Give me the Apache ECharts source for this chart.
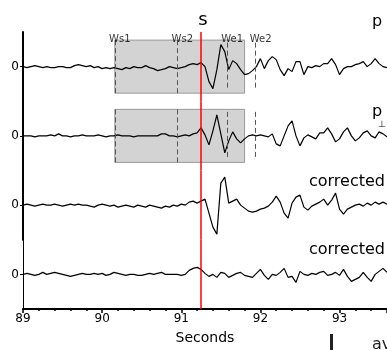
<!DOCTYPE html>
<html><head><meta charset="utf-8">
<script src="https://cdn.jsdelivr.net/npm/echarts@6/dist/echarts.min.js"></script>
<style>html,body{margin:0;padding:0;background:#fff}#c{width:387px;height:350px}</style>
</head><body><div id="c"></div>
<script>
// sample times: start 89 s, step 0.05 s
const T0 = 89, DT = 0.05;
// trace amplitudes (arbitrary units)
const traceP = [0,-1,0,1,0,-1,0,-1,-1,0,0,-1,-1,1,2,1,0,1,-1,0,-2,-1,-2,-1,-2,-3,-1,-2,0,-1,-1,1,-1,-2,-4,-3,-2,0,-1,-2,-1,0,2,3,2,4,0,-15,-22,-3,22,15,-3,6,3,-3,-8,-7,-4,0,8,-2,6,10,7,-3,-9,-2,-5,5,5,-8,0,-1,1,0,3,3,8,2,-8,-2,0,0,2,3,5,0,3,8,3,0,-1];
const tracePperp = [0,0,0,-1,0,0,0,1,0,2,0,0,-1,0,0,1,0,0,0,1,0,-1,0,0,1,0,0,0,-1,0,0,0,0,0,0,2,2,0,0,-1,0,1,0,2,3,8,1,-9,5,21,2,-17,-5,4,-3,-7,-3,0,1,0,1,0,-1,2,-8,-10,0,10,15,0,-10,-2,1,-1,-3,3,3,8,2,-6,-3,4,8,0,-5,-2,3,5,0,-2,4,2,-1];
const traceCorr1 = [0,1,0,-1,0,1,0,0,1,0,-1,0,1,0,1,0,0,-1,-2,0,1,0,-1,0,-2,-1,0,-1,-2,0,-1,-2,0,-1,-2,-3,-1,-2,0,-1,1,0,3,4,2,4,6,-8,-22,-29,22,28,2,4,6,0,-3,-6,-7,-6,-4,-3,-1,3,9,3,-8,-13,2,8,10,-2,-5,-1,1,3,6,0,5,12,-4,-9,-4,-2,0,1,-1,2,0,3,1,3,1];
const traceCorr2 = [0,1,0,-1,0,2,0,1,2,1,0,-1,-2,-1,0,1,0,0,1,0,1,-1,0,2,1,0,-1,0,0,-1,-1,0,1,0,1,2,0,0,0,0,-1,0,4,6,7,5,1,-2,0,-3,2,1,-3,-1,1,2,-1,-2,-3,1,5,-1,-5,0,-1,2,6,-3,-2,-8,3,0,-1,1,0,2,3,-1,0,2,-1,5,-2,-7,-5,-3,2,-3,-7,0,3,6,2];
const traces = [traceP, tracePperp, traceCorr1, traceCorr2];
// x tick labels
const xTicks = [89, 90, 91, 92, 93];
// phase / window times (s)
const sTime = 91.25;
const winNames = ['Ws1', 'Ws2', 'We1', 'We2'];
const winTimes = [90.16, 90.95, 91.58, 91.94];
const boxStart = 90.16, boxEnd = 91.80;
const boxHalf = 26.5;
const weBottom = -21;
const yRange = 34.6;

const font = '"DejaVu Sans", sans-serif';
const gridTop = 32, gridH = 69.25;
const grids = [], xAxes = [], yAxes = [], series = [];
for (let i = 0; i < 4; i++) {
  grids.push({left: 23, right: 0, top: gridTop + i * gridH, height: gridH});
  const last = i === 3;
  xAxes.push({
    gridIndex: i, type: 'value', min: 89, max: 93.6, interval: 1,
    show: last,
    axisLine: {show: last, onZero: false, lineStyle: {color: '#000', width: 2}},
    axisTick: {show: last, inside: false, length: 4, lineStyle: {color: '#000', width: 1.5}},
    minorTick: {show: last, splitNumber: 5, length: 2, lineStyle: {color: '#000', width: 1.5}},
    axisLabel: {show: last, color: '#000', fontSize: 12, fontFamily: font, margin: 4, showMaxLabel: false},
    splitLine: {show: false},
    name: last ? 'Seconds' : '', nameLocation: 'middle', nameGap: 22,
    nameTextStyle: {color: '#000', fontSize: 14, fontFamily: font}
  });
  yAxes.push({
    gridIndex: i, type: 'value', min: -yRange, max: yRange,
    axisLine: {show: true, lineStyle: {color: '#000', width: last ? 1 : 2}},
    axisTick: {show: true, length: 3, customValues: [0], lineStyle: {color: '#000'}},
    axisLabel: {show: true, customValues: [0], color: '#000', fontSize: 12, fontFamily: font, margin: 4},
    splitLine: {show: false}
  });
  const markLineData = [{xAxis: sTime, lineStyle: {color: '#ff0000', width: 1.5, type: 'solid'}}];
  const s = {
    type: 'line', xAxisIndex: i, yAxisIndex: i,
    data: traces[i].map((v, k) => [T0 + DT * k, v]),
    showSymbol: false, symbol: 'none',
    lineStyle: {color: '#000', width: 1.2},
    animation: false, silent: true, z: 3,
    markLine: {silent: true, symbol: 'none', animation: false, label: {show: false}, z: 5, data: markLineData}
  };
  if (i < 2) {
    s.markArea = {
      silent: true,
      itemStyle: {color: '#d3d3d3', borderColor: '#9a9a9a', borderWidth: 1},
      data: [[{coord: [boxStart, boxHalf]}, {coord: [boxEnd, -boxHalf]}]]
    };
    winTimes.forEach((t, j) => {
      markLineData.push([
        {coord: [t, j < 2 ? -boxHalf : weBottom], lineStyle: {color: '#555', width: 1, type: [5, 3]}},
        {coord: [t, boxHalf]}
      ]);
    });
  }
  series.push(s);
}
// window labels (top panel)
series.push({
  type: 'scatter', xAxisIndex: 0, yAxisIndex: 0, symbolSize: 0, silent: true, animation: false,
  data: winTimes.map((t, j) => ({value: [t, 27.2], name: winNames[j]})),
  label: {show: true, position: 'inside', formatter: '{b}', offset: [5, 0], color: '#000', fontSize: 10, fontFamily: font},
  z: 6
});

const chart = echarts.init(document.getElementById('c'), null, {renderer: 'canvas'});
chart.setOption({
  backgroundColor: '#fff',
  animation: false,
  grid: grids, xAxis: xAxes, yAxis: yAxes, series: series,
  graphic: [
    {type: 'text', x: 203, y: 20, style: {text: 's', fontSize: 18, fontFamily: font, fill: '#000', align: 'center', verticalAlign: 'middle'}},
    {type: 'text', x: 377, y: 21.5, style: {text: 'p', fontSize: 16, fontFamily: font, fill: '#000', align: 'center', verticalAlign: 'middle'}},
    {type: 'text', x: 377, y: 111.5, style: {text: 'p', fontSize: 16, fontFamily: font, fill: '#000', align: 'center', verticalAlign: 'middle'}},
    {type: 'text', x: 382, y: 125, style: {text: '⊥', fontSize: 9, fontFamily: font, fill: '#000', align: 'center', verticalAlign: 'middle'}},
    {type: 'text', x: 385, y: 181.5, style: {text: 'corrected', fontSize: 16, fontFamily: font, fill: '#000', align: 'right', verticalAlign: 'middle'}},
    {type: 'text', x: 385, y: 249.5, style: {text: 'corrected', fontSize: 16, fontFamily: font, fill: '#000', align: 'right', verticalAlign: 'middle'}},
    {type: 'rect', shape: {x: 330, y: 334, width: 3, height: 16}, style: {fill: '#222'}},
    {type: 'text', x: 372, y: 337, style: {text: 'av', fontSize: 16, fontFamily: font, fill: '#222', align: 'left', verticalAlign: 'top'}}
  ]
});
</script></body></html>
